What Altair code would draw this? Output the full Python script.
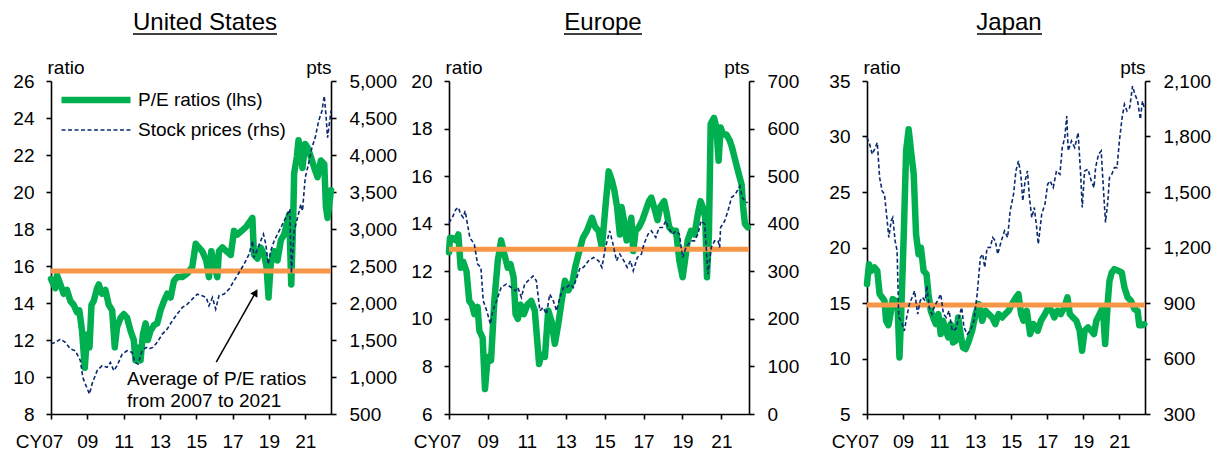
import altair as alt
import pandas as pd

FONT = "Liberation Sans"
GREEN = "#00B050"
NAVY = "#0B2A6F"
ORANGE = "#F79646"
SERIES = ["P/E ratios (lhs)", "Stock prices (rhs)"]

tick_years = [2007, 2009, 2011, 2013, 2015, 2017, 2019, 2021]
x_domain = [2007, 2022.42]

# ---------------- United States ----------------
us_pe = [(2007.00, 15.3), (2007.24, 14.8), (2007.33, 15.5), (2007.52, 15.0), (2007.70, 14.5), (2007.88, 14.7),
         (2008.07, 14.1), (2008.25, 13.9), (2008.43, 13.5), (2008.56, 13.6), (2008.71, 12.5), (2008.86, 10.5),
         (2008.99, 12.3), (2009.12, 11.6), (2009.23, 13.9), (2009.35, 14.1), (2009.54, 14.8), (2009.63, 15.0),
         (2009.81, 14.5), (2010.00, 14.7), (2010.18, 13.9), (2010.37, 13.6), (2010.51, 11.6), (2010.64, 12.7),
         (2010.83, 13.2), (2011.01, 13.4), (2011.19, 13.2), (2011.38, 12.5), (2011.56, 12.0), (2011.65, 10.9),
         (2011.75, 11.6), (2011.93, 10.9), (2012.06, 12.3), (2012.21, 12.9), (2012.33, 12.0), (2012.48, 12.5),
         (2012.67, 12.8), (2012.85, 12.9), (2013.03, 13.6), (2013.22, 14.1), (2013.40, 14.5), (2013.59, 14.3),
         (2013.77, 15.2), (2013.95, 15.4), (2014.23, 15.4), (2014.51, 15.6), (2014.78, 15.95), (2014.97, 17.2),
         (2015.15, 17.0), (2015.33, 16.8), (2015.55, 16.3), (2015.70, 15.4), (2015.83, 16.8), (2016.01, 15.95),
         (2016.16, 15.4), (2016.25, 16.8), (2016.44, 17.0), (2016.66, 16.8), (2016.90, 16.6), (2017.08, 17.9),
         (2017.26, 17.7), (2017.50, 17.9), (2017.73, 18.1), (2017.95, 18.4), (2018.09, 18.6), (2018.18, 16.6),
         (2018.37, 16.4), (2018.55, 17.0), (2018.74, 16.6), (2018.87, 15.95), (2018.98, 14.3), (2019.10, 16.1),
         (2019.29, 16.8), (2019.47, 16.3), (2019.66, 17.4), (2019.84, 17.7), (2020.02, 18.4), (2020.12, 18.8),
         (2020.23, 15.0), (2020.34, 18.6), (2020.39, 21.0), (2020.54, 21.9), (2020.63, 22.8), (2020.76, 22.2),
         (2020.85, 21.3), (2021.00, 22.6), (2021.13, 22.4), (2021.31, 21.9), (2021.50, 21.3), (2021.68, 20.8),
         (2021.86, 21.7), (2022.05, 21.5), (2022.14, 19.2), (2022.23, 18.6), (2022.42, 20.1)]

us_px = [(2007.00, 1445), (2007.24, 1468), (2007.52, 1512), (2007.79, 1468), (2008.07, 1378), (2008.34, 1355),
         (2008.62, 1220), (2008.75, 995), (2008.89, 905), (2009.12, 770), (2009.26, 905), (2009.54, 1085),
         (2009.81, 1153), (2010.09, 1130), (2010.27, 1198), (2010.46, 1085), (2010.64, 1153), (2010.92, 1310),
         (2011.19, 1355), (2011.47, 1333), (2011.62, 1198), (2011.80, 1175), (2012.02, 1355), (2012.24, 1400),
         (2012.39, 1378), (2012.61, 1400), (2012.85, 1468), (2013.13, 1580), (2013.40, 1648), (2013.68, 1760),
         (2013.95, 1850), (2014.23, 1940), (2014.51, 1985), (2014.78, 2052), (2015.06, 2120), (2015.33, 2098),
         (2015.55, 2075), (2015.70, 1962), (2015.89, 2075), (2016.07, 1918), (2016.25, 2098), (2016.53, 2120),
         (2016.81, 2188), (2017.08, 2300), (2017.36, 2412), (2017.63, 2525), (2017.91, 2660), (2018.09, 2840),
         (2018.18, 2615), (2018.37, 2728), (2018.55, 2840), (2018.70, 2930), (2018.83, 2795), (2018.96, 2525),
         (2019.10, 2705), (2019.29, 2840), (2019.47, 2930), (2019.66, 3020), (2019.84, 3110), (2020.02, 3200),
         (2020.15, 3268), (2020.24, 2400), (2020.39, 2975), (2020.58, 3155), (2020.76, 3335), (2020.85, 3245),
         (2021.00, 3695), (2021.18, 3875), (2021.37, 4100), (2021.55, 4235), (2021.74, 4460), (2021.92, 4595),
         (2022.05, 4798), (2022.14, 4550), (2022.23, 4235), (2022.42, 4595)]

us_avg = 15.73

# ---------------- Europe ----------------
eu_pe = [(2007.00, 12.8), (2007.05, 13.4), (2007.17, 13.4), (2007.35, 13.3), (2007.48, 13.55), (2007.60, 12.15),
         (2007.73, 12.4), (2007.90, 12.0), (2008.04, 10.75), (2008.18, 10.6), (2008.30, 10.2), (2008.47, 10.5),
         (2008.56, 9.5), (2008.73, 9.2), (2008.85, 7.05), (2008.99, 8.4), (2009.16, 8.25), (2009.33, 10.75),
         (2009.51, 12.45), (2009.68, 13.3), (2009.85, 12.7), (2010.02, 12.15), (2010.16, 12.3), (2010.32, 11.75),
         (2010.42, 10.2), (2010.54, 10.0), (2010.68, 10.6), (2010.85, 10.2), (2011.03, 10.6), (2011.23, 10.75),
         (2011.41, 10.35), (2011.63, 8.1), (2011.75, 8.5), (2011.93, 8.4), (2012.10, 10.35), (2012.27, 9.9),
         (2012.44, 8.95), (2012.62, 9.8), (2012.79, 10.75), (2012.96, 11.6), (2013.14, 11.2), (2013.36, 11.6),
         (2013.48, 12.15), (2013.65, 12.7), (2013.88, 13.4), (2014.09, 13.7), (2014.35, 14.25), (2014.52, 13.85),
         (2014.69, 13.7), (2014.86, 13.0), (2015.04, 14.7), (2015.21, 16.2), (2015.38, 15.8), (2015.50, 15.4),
         (2015.64, 14.7), (2015.78, 13.55), (2015.87, 14.7), (2015.99, 14.15), (2016.13, 13.3), (2016.25, 13.7),
         (2016.37, 14.25), (2016.47, 12.85), (2016.59, 13.7), (2016.76, 13.85), (2016.94, 14.15), (2017.11, 14.55),
         (2017.28, 14.95), (2017.40, 15.1), (2017.54, 14.7), (2017.72, 14.15), (2017.85, 14.7), (2018.06, 14.95),
         (2018.20, 14.4), (2018.32, 13.85), (2018.49, 13.7), (2018.67, 13.7), (2018.84, 12.45), (2019.01, 11.75),
         (2019.13, 12.45), (2019.27, 13.3), (2019.44, 13.7), (2019.62, 13.55), (2019.79, 14.4), (2019.93, 14.95),
         (2020.05, 14.7), (2020.17, 14.25), (2020.26, 11.75), (2020.36, 13.55), (2020.45, 18.2), (2020.62, 18.45),
         (2020.74, 18.05), (2020.86, 16.65), (2020.96, 18.05), (2021.09, 17.75), (2021.26, 17.75), (2021.43, 17.5),
         (2021.55, 17.2), (2021.72, 16.65), (2021.86, 16.2), (2022.04, 15.65), (2022.12, 14.7), (2022.21, 14.0),
         (2022.35, 13.85)]

eu_px = [(2007.00, 402), (2007.17, 413), (2007.35, 430), (2007.48, 434), (2007.60, 420), (2007.73, 413),
         (2007.83, 427), (2007.95, 399), (2008.07, 371), (2008.30, 357), (2008.47, 315), (2008.64, 308),
         (2008.76, 238), (2008.94, 217), (2009.13, 189), (2009.25, 217), (2009.45, 238), (2009.68, 266),
         (2009.94, 273), (2010.20, 266), (2010.42, 259), (2010.54, 266), (2010.72, 245), (2010.89, 273),
         (2011.06, 280), (2011.32, 290), (2011.49, 280), (2011.67, 217), (2011.84, 224), (2012.01, 210),
         (2012.18, 252), (2012.36, 238), (2012.53, 217), (2012.70, 245), (2012.88, 266), (2013.05, 266),
         (2013.22, 273), (2013.39, 266), (2013.57, 287), (2013.74, 308), (2013.91, 308), (2014.17, 322),
         (2014.43, 329), (2014.69, 322), (2014.86, 308), (2015.04, 350), (2015.26, 385), (2015.43, 357),
         (2015.61, 322), (2015.78, 336), (2015.99, 322), (2016.16, 308), (2016.33, 322), (2016.47, 301),
         (2016.68, 329), (2016.89, 336), (2017.02, 357), (2017.23, 378), (2017.40, 385), (2017.63, 371),
         (2017.80, 392), (2017.97, 392), (2018.15, 406), (2018.27, 392), (2018.49, 378), (2018.67, 385),
         (2018.84, 378), (2019.01, 329), (2019.18, 350), (2019.44, 364), (2019.62, 364), (2019.79, 378),
         (2019.96, 406), (2020.14, 399), (2020.31, 294), (2020.48, 350), (2020.65, 364), (2020.83, 364),
         (2020.91, 350), (2020.96, 392), (2021.17, 406), (2021.34, 427), (2021.52, 455), (2021.72, 462),
         (2021.95, 479), (2022.07, 455), (2022.21, 448), (2022.35, 444)]

eu_avg = 12.93

# ---------------- Japan ----------------
jp_pe = [(2007.00, 16.7), (2007.11, 18.5), (2007.24, 17.9), (2007.42, 18.2), (2007.57, 17.9), (2007.70, 15.8),
         (2007.84, 15.5), (2007.97, 15.2), (2008.06, 13.4), (2008.19, 13.0), (2008.30, 14.0), (2008.43, 15.35),
         (2008.58, 15.2), (2008.71, 14.3), (2008.80, 10.1), (2008.89, 13.7), (2009.04, 21.2), (2009.17, 28.7),
         (2009.31, 30.65), (2009.44, 28.7), (2009.59, 26.6), (2009.72, 21.2), (2009.86, 19.4), (2009.99, 20.0),
         (2010.14, 17.9), (2010.30, 17.6), (2010.41, 15.8), (2010.54, 14.3), (2010.67, 13.7), (2010.82, 13.1),
         (2010.96, 14.0), (2011.09, 12.2), (2011.22, 13.4), (2011.37, 12.5), (2011.51, 11.9), (2011.64, 13.1),
         (2011.77, 11.45), (2011.92, 11.6), (2012.06, 13.7), (2012.19, 12.2), (2012.32, 11.0), (2012.47, 10.85),
         (2012.65, 11.6), (2012.83, 12.5), (2013.02, 14.0), (2013.20, 14.9), (2013.39, 13.4), (2013.57, 14.3),
         (2013.75, 14.0), (2013.94, 13.7), (2014.12, 13.1), (2014.30, 14.0), (2014.49, 13.7), (2014.67, 14.0),
         (2014.85, 14.3), (2015.04, 14.9), (2015.26, 15.5), (2015.40, 15.8), (2015.55, 14.0), (2015.68, 13.4),
         (2015.86, 14.3), (2016.05, 12.2), (2016.23, 13.1), (2016.47, 12.5), (2016.65, 13.4), (2016.87, 14.0),
         (2017.06, 14.6), (2017.24, 14.3), (2017.39, 13.7), (2017.57, 14.3), (2017.75, 14.0), (2017.94, 14.6),
         (2018.12, 15.5), (2018.25, 14.0), (2018.43, 13.7), (2018.61, 13.4), (2018.80, 12.5), (2018.93, 10.7),
         (2019.07, 12.5), (2019.26, 12.8), (2019.44, 12.5), (2019.59, 12.2), (2019.72, 13.4), (2019.90, 14.0),
         (2020.08, 14.6), (2020.21, 11.3), (2020.36, 15.2), (2020.45, 17.0), (2020.58, 17.75), (2020.72, 18.05),
         (2020.94, 17.9), (2021.13, 17.75), (2021.28, 16.4), (2021.46, 15.5), (2021.64, 15.2), (2021.83, 14.45),
         (2022.01, 14.3), (2022.10, 13.0), (2022.28, 13.0), (2022.38, 13.1)]

jp_px = [(2007.00, 1794), (2007.15, 1758), (2007.29, 1704), (2007.46, 1740), (2007.57, 1767), (2007.70, 1578),
         (2007.84, 1506), (2007.97, 1488), (2008.12, 1344), (2008.21, 1254), (2008.34, 1344), (2008.43, 1362),
         (2008.56, 1236), (2008.67, 1182), (2008.76, 822), (2008.89, 804), (2009.07, 750), (2009.20, 822),
         (2009.35, 894), (2009.50, 930), (2009.64, 966), (2009.81, 840), (2009.95, 912), (2010.08, 930),
         (2010.23, 912), (2010.32, 993), (2010.45, 876), (2010.60, 840), (2010.72, 876), (2010.91, 912),
         (2011.09, 948), (2011.24, 840), (2011.40, 822), (2011.55, 858), (2011.73, 750), (2011.92, 759),
         (2012.10, 822), (2012.25, 876), (2012.38, 768), (2012.56, 732), (2012.74, 750), (2012.93, 804),
         (2013.11, 948), (2013.29, 1146), (2013.42, 1164), (2013.53, 1092), (2013.66, 1200), (2013.84, 1200),
         (2013.97, 1254), (2014.12, 1236), (2014.25, 1164), (2014.45, 1236), (2014.63, 1290), (2014.80, 1254),
         (2014.94, 1398), (2015.13, 1488), (2015.26, 1614), (2015.40, 1668), (2015.53, 1596), (2015.64, 1452),
         (2015.77, 1560), (2015.90, 1614), (2016.01, 1470), (2016.14, 1362), (2016.28, 1416), (2016.41, 1308),
         (2016.50, 1218), (2016.69, 1380), (2016.87, 1434), (2017.02, 1542), (2017.15, 1560), (2017.33, 1524),
         (2017.51, 1614), (2017.70, 1596), (2017.83, 1740), (2017.97, 1794), (2018.08, 1911), (2018.16, 1722),
         (2018.34, 1776), (2018.52, 1740), (2018.71, 1821), (2018.85, 1596), (2018.94, 1416), (2019.07, 1614),
         (2019.26, 1623), (2019.44, 1560), (2019.59, 1524), (2019.68, 1632), (2019.84, 1704), (2019.99, 1722),
         (2020.12, 1506), (2020.23, 1335), (2020.36, 1452), (2020.45, 1578), (2020.58, 1596), (2020.72, 1632),
         (2020.87, 1632), (2021.00, 1776), (2021.15, 1902), (2021.28, 1974), (2021.42, 1938), (2021.57, 1956),
         (2021.73, 2073), (2021.86, 2028), (2022.01, 1992), (2022.16, 1893), (2022.28, 1992), (2022.38, 1956)]

jp_avg = 14.82

# annotation (United States panel), in data units
arrow_start = (2016.10, 10.80)
arrow_head = (2018.27, 14.57)
note_lines = [(2011.19, 9.89, "Average of P/E ratios"), (2011.19, 8.70, "from 2007 to 2021")]

FS = 19
PLOT_H = 333


def panel(title, pe, px, avg, ydom, yticks, rdom, rticks, width, title_dx, uline, legend=False, annot=False):
    pe_df = pd.DataFrame(pe, columns=["t", "v"])
    pe_df["series"] = SERIES[0]
    px_df = pd.DataFrame(px, columns=["t", "v"])
    px_df["series"] = SERIES[1]

    x = alt.X("t:Q", scale=alt.Scale(domain=x_domain, nice=False, zero=False), title=None,
              axis=alt.Axis(values=tick_years,
                            labelExpr="datum.value == 2007 ? 'CY07' : format(datum.value % 100, '02d')",
                            labelOffset={"condition": {"test": "datum.value == 2007", "value": -12}, "value": 0},
                            labelFlush=False, labelOverlap=False, labelPadding=13, labelBound=False))
    yl = alt.Y("v:Q", scale=alt.Scale(domain=ydom, nice=False, zero=False),
               axis=alt.Axis(orient="left", values=yticks, title="ratio", titleAngle=0, titleAlign="left",
                             titleBaseline="alphabetic", titleX=-4, titleY=-8, labelPadding=12))
    yr = alt.Y("v:Q", scale=alt.Scale(domain=rdom, nice=False, zero=False),
               axis=alt.Axis(orient="right", values=rticks, format=",.0f", title="pts", titleAngle=0,
                             titleAlign="right", titleBaseline="alphabetic", titleX=0, titleY=-8,
                             labelPadding=13))

    if legend:
        lg = alt.Legend(orient="none", legendX=7, legendY=9, title=None, direction="vertical",
                        symbolType="stroke", symbolSize=4761, labelFont=FONT, labelFontSize=FS,
                        labelColor="black", labelOffset=4, clipHeight=20, rowPadding=10, padding=0,
                        labelLimit=400)
        enc = dict(
            color=alt.Color("series:N", scale=alt.Scale(domain=SERIES, range=[GREEN, NAVY]), legend=lg),
            strokeDash=alt.StrokeDash("series:N", scale=alt.Scale(domain=SERIES, range=[[1, 0], [4, 2.5]]),
                                      legend=lg),
            strokeWidth=alt.StrokeWidth("series:N", scale=alt.Scale(domain=SERIES, range=[6.5, 1.6]), legend=lg),
        )
        green = alt.Chart(pe_df).mark_line(strokeJoin="round", strokeCap="round").encode(x=x, y=yl, **enc)
        dashed = alt.Chart(px_df).mark_line().encode(x=x, y=yr, **enc)
    else:
        green = alt.Chart(pe_df).mark_line(color=GREEN, strokeWidth=6.5, strokeJoin="round",
                                           strokeCap="round").encode(x=x, y=yl)
        dashed = alt.Chart(px_df).mark_line(color=NAVY, strokeWidth=1.6, strokeDash=[4, 2.5]).encode(x=x, y=yr)

    orange = alt.Chart(pd.DataFrame({"v": [avg]})).mark_rule(color=ORANGE, strokeWidth=5).encode(y=yl)

    underline = alt.Chart(pd.DataFrame({"k": [0]})).mark_rule(color="black", strokeWidth=1.5).encode(
        x=alt.value(uline[0]), x2=alt.value(uline[1]), y=alt.value(-47))

    left_layers = [green, orange, underline]
    if annot:
        arr_df = pd.DataFrame({"t": [arrow_start[0]], "v": [arrow_start[1]],
                               "t2": [arrow_head[0]], "v2": [arrow_head[1]]})
        arrow = alt.Chart(arr_df).mark_rule(color="black", strokeWidth=1.5).encode(
            x=x, y=yl, x2="t2:Q", y2="v2:Q")
        head = alt.Chart(pd.DataFrame({"t": [arrow_head[0]], "v": [arrow_head[1]]})).mark_point(
            shape="triangle-up", filled=True, color="black", opacity=1, size=70, angle=30).encode(x=x, y=yl)
        txt_df = pd.DataFrame(note_lines, columns=["t", "v", "label"])
        note = alt.Chart(txt_df).mark_text(align="left", baseline="middle", font=FONT, fontSize=FS,
                                           color="black").encode(x=x, y=yl, text="label:N")
        left_layers += [arrow, head, note]

    inner = alt.layer(*left_layers)
    ch = alt.layer(inner, dashed).resolve_scale(y="independent").properties(
        width=width, height=PLOT_H,
        title=alt.TitleParams(title, anchor="middle", frame="group", dx=title_dx, offset=-2,
                              font=FONT, fontSize=24, fontWeight="normal", color="black"))
    return ch


us = panel("United States", us_pe, us_px, us_avg, [8, 26], list(range(8, 27, 2)),
           [500, 5000], list(range(500, 5001, 500)), 280, 14, (82, 226), legend=True, annot=True)
eu = panel("Europe", eu_pe, eu_px, eu_avg, [6, 20], list(range(6, 21, 2)),
           [0, 700], list(range(0, 701, 100)), 300, 4, (115, 193))
jp = panel("Japan", jp_pe, jp_px, jp_avg, [5, 35], list(range(5, 36, 5)),
           [300, 2100], list(range(300, 2101, 300)), 278, 3, (110, 175))

chart = alt.hconcat(us, eu, jp, spacing=118, bounds="flush").resolve_scale(
    color="independent", strokeDash="independent", strokeWidth="independent"
).resolve_legend(
    color="independent", strokeDash="independent", strokeWidth="independent"
).properties(
    padding={"left": 4, "top": 3, "right": 0, "bottom": 0}
).configure_view(stroke=None).configure_axis(
    grid=False, domainColor="black", domainWidth=1.6, tickColor="black", tickWidth=1.6, tickSize=5,
    labelColor="black", labelFont=FONT, labelFontSize=FS, titleFont=FONT, titleFontSize=FS,
    titleFontWeight="normal", titleColor="black"
)

chart.save("out.html", embed_options={"renderer": "svg", "actions": False})
